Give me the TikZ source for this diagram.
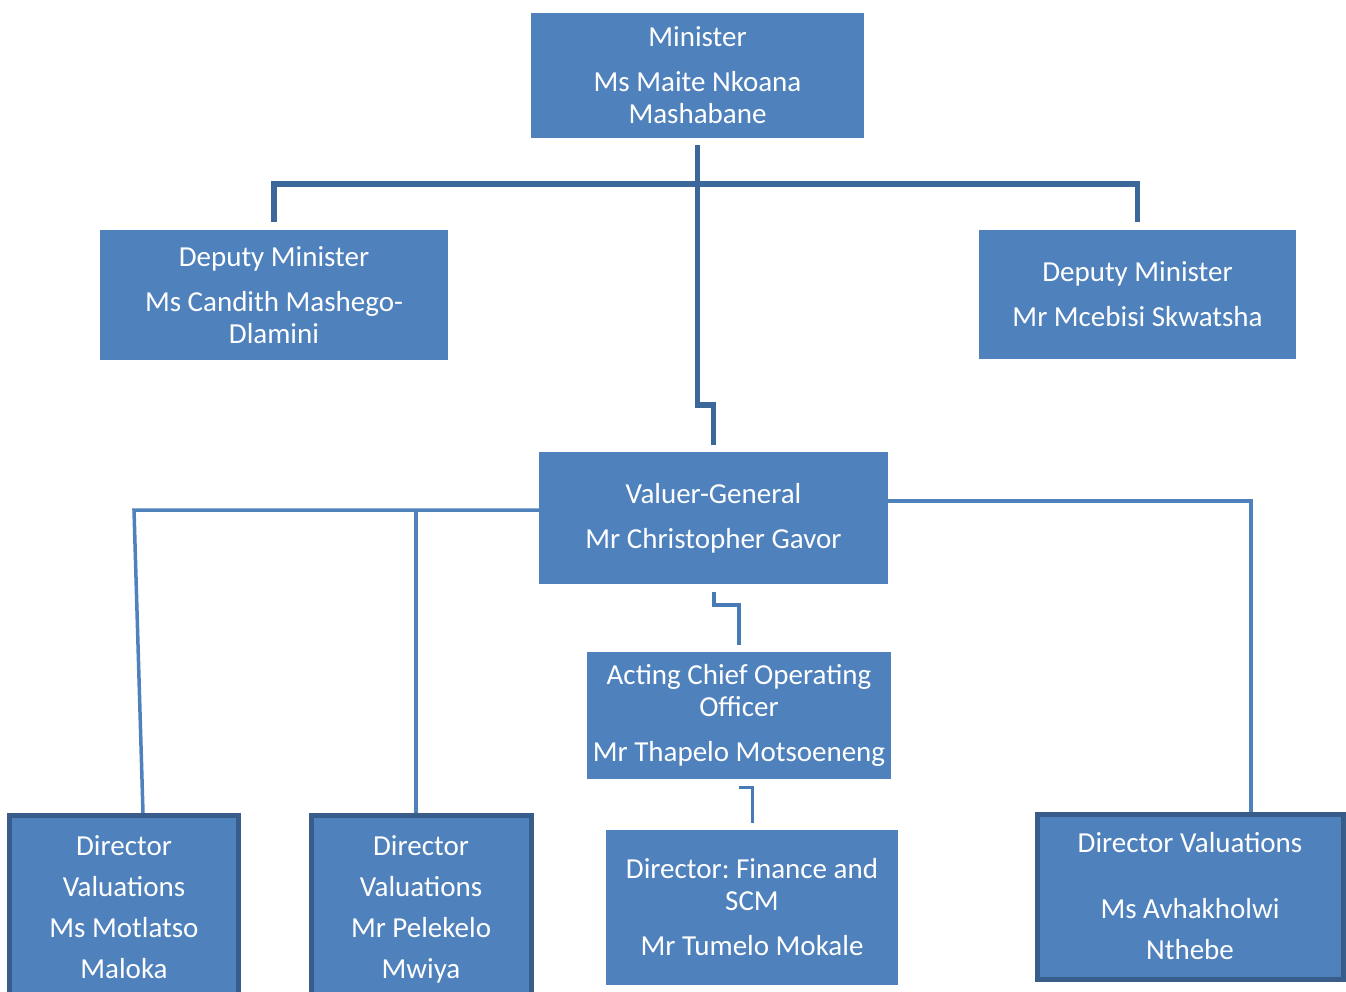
\documentclass[tikz,border=0pt]{standalone}
\usepackage{fontspec}
\setmainfont{Carlito}
\usepackage{xcolor}
\usepackage{tikz}
\usetikzlibrary{positioning,calc}
\definecolor{boxblue}{RGB}{79,129,189}
\definecolor{edgeblue}{RGB}{56,93,138}
\definecolor{lineblue}{RGB}{60,103,155}
\definecolor{midblue}{RGB}{72,122,182}
\frenchspacing

\begin{document}
\begin{tikzpicture}[x=1pt,y=1pt,font=\fontsize{29}{32}\selectfont,
  post/.style={fill=boxblue,text=white,align=center,inner sep=0pt},
  dirpost/.style={post,draw=edgeblue,line width=5pt,font=\fontsize{29}{41}\selectfont},
  mainline/.style={draw=lineblue,line width=5.5pt},
  midline/.style={draw=midblue,line width=4pt},
  lightline/.style={draw=boxblue,line width=3.5pt}]
  \useasboundingbox (0,0) rectangle (1346,-992);
  \clip (0,0) rectangle (1346,-992);
  \node[post,minimum width=333pt,minimum height=125pt] (min) at (697.5,-75.5) {Minister\\[13pt]Ms Maite Nkoana\\Mashabane};
  \node[post,minimum width=348pt,minimum height=130pt] (depl) at (274,-295) {Deputy Minister\\[13pt]Ms Candith Mashego-\\Dlamini};
  \node[post,minimum width=317pt,minimum height=129pt] (depr) at (1137.5,-294.5) {Deputy Minister\\[13pt]Mr Mcebisi Skwatsha};
  \node[post,minimum width=349pt,minimum height=132pt] (vg) at (713.5,-518) {Valuer-General\\[13pt]Mr Christopher Gavor};
  \node[post,minimum width=304pt,minimum height=127pt] (coo) at (739,-715.5) {Acting Chief Operating\\Officer\\[13pt]Mr Thapelo Motsoeneng};
  \node[post,minimum width=292pt,minimum height=155pt] (fin) at (752,-907.5) {Director: Finance and\\SCM\\[13pt]Mr Tumelo Mokale};
  \node[dirpost,minimum width=229pt,minimum height=187pt] (dir1) at (124,-909) {Director\\Valuations\\Ms Motlatso\\Maloka\vphantom{y}};
  \node[dirpost,minimum width=220pt,minimum height=187pt] (dir2) at (421,-909) {Director\\Valuations\\Mr Pelekelo\\Mwiya};
  \node[dirpost,minimum width=306pt,minimum height=165pt] (dir3) at (1190,-896.5) {Director Valuations\\[25pt]Ms Avhakholwi\\Nthebe};
  \coordinate (lbend) at (134,-510);
  \coordinate (mbend) at (416,-510);
  \draw[mainline] ([yshift=8pt]depl.north) |- ([yshift=-46pt]min.south) -| ([yshift=8pt]depr.north);
  \draw[mainline] ([yshift=-7pt]min.south) -- ++(0,-260) -| ([yshift=7pt]vg.north);
  \draw[midline] ([yshift=-8pt]vg.south) -- ++(0,-13) -| ([yshift=7pt]coo.north);
  \draw[midline,line width=3pt] ([yshift=-8pt]coo.south) -| ([yshift=7pt]fin.north);
  \draw[lightline] ([yshift=8pt]vg.west) -- (lbend) -- ([xshift=19pt]dir1.north);
  \draw[lightline] (mbend) -- ([xshift=-5pt]dir2.north);
  \draw[lightline] ([yshift=17pt]vg.east) -| ([xshift=61pt]dir3.north);
\end{tikzpicture}
\end{document}
